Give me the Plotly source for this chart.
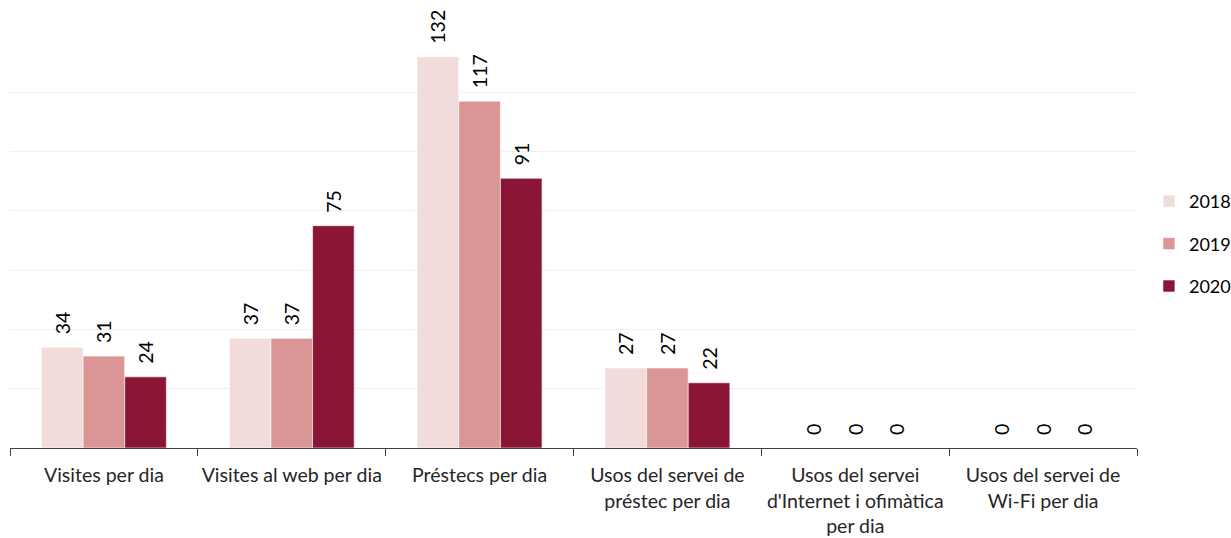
import plotly.graph_objects as go

categories = [
    "Visites per dia",
    "Visites al web per dia",
    "Préstecs per dia",
    "Usos del servei de<br>préstec per dia",
    "Usos del servei<br>d'Internet i ofimàtica<br>per dia",
    "Usos del servei de<br>Wi-Fi per dia",
]
years = ["2018", "2019", "2020"]
v2018 = [34, 37, 132, 27, 0, 0]
v2019 = [31, 37, 117, 27, 0, 0]
v2020 = [24, 75, 91, 22, 0, 0]
colors = ["#f2dcdb", "#d99694", "#8b1535"]

FONT = "Lato"
PAD = "\u00a0\u00a0"
fig = go.Figure()
for name, vals, col in zip(years, [v2018, v2019, v2020], colors):
    fig.add_trace(go.Bar(
        name=name, x=categories, y=vals, legendgroup=name,
        marker=dict(color=col, line=dict(color="white", width=0.6)),
        text=[PAD + str(v) for v in vals], textposition="outside", textangle=-90,
        textfont=dict(family=FONT, size=19.5, color="#000000"),
        constraintext="none",
        cliponaxis=False,
    ))

fig.update_layout(
    width=1231, height=538,
    margin=dict(l=10, r=94, t=33, b=90, autoexpand=False),
    paper_bgcolor="white", plot_bgcolor="white",
    barmode="group", bargap=0.335, bargroupgap=0,
    font=dict(family=FONT, size=19, color="#262626"),
    legend=dict(x=1.0106, y=0.4916, xanchor="left", yanchor="middle",
                font=dict(family=FONT, size=18, color="#000000"),
                tracegroupgap=16, itemwidth=30),
    showlegend=True,
)
fig.update_xaxes(
    type="category", showline=True, linecolor="#404040", linewidth=1,
    ticks="outside", tickson="boundaries", ticklen=7, tickcolor="#404040",
    tickangle=0, ticklabelstandoff=10,
    tickfont=dict(family=FONT, size=19.5, color="#262626"),
    showgrid=False,
)
fig.update_yaxes(
    range=[0, 140], dtick=20, showticklabels=False, showgrid=True,
    gridcolor="#f0f0f0", gridwidth=1, zeroline=False, showline=False,
)
fig.write_html(
    "out.html",
    config={"displayModeBar": False},
    post_script="document.body.style.margin='0';document.body.style.overflow='hidden';",
)
